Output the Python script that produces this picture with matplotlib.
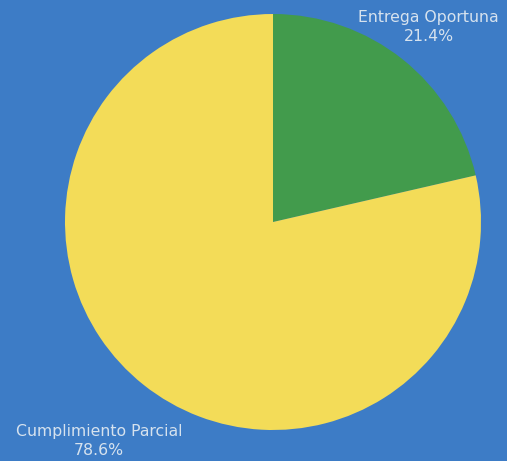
import matplotlib.pyplot as plt
import numpy as np

labels = ["Entrega Oportuna", "Cumplimiento Parcial"]
values = [21.4, 78.6]
colors = ["#429b4c", "#f3dc58"]
label_dist = [1.2, 1.345]

fig = plt.figure(figsize=(5.07, 4.61), dpi=100)
fig.patch.set_facecolor("#3d7cc6")

# square axes so radius 1 maps to ~208 px
ax = fig.add_axes([65 / 507, 31 / 461, 416 / 507, 416 / 461])
ax.set_facecolor("none")
wedges, _ = ax.pie(values, colors=colors, startangle=90, counterclock=False,
                   radius=1.0, wedgeprops=dict(linewidth=0))
ax.set_xlim(-1, 1)
ax.set_ylim(-1, 1)
ax.set_aspect("equal")
ax.axis("off")

for w, lab, v, d in zip(wedges, labels, values, label_dist):
    ang = np.deg2rad((w.theta1 + w.theta2) / 2)
    ax.text(d * np.cos(ang), d * np.sin(ang), f"{lab}\n{v}%",
            ha="center", va="center", color="#d6e2ee", fontsize=11.3,
            family="DejaVu Sans", linespacing=1.35, clip_on=False)

fig.savefig("out.png", facecolor=fig.get_facecolor())
